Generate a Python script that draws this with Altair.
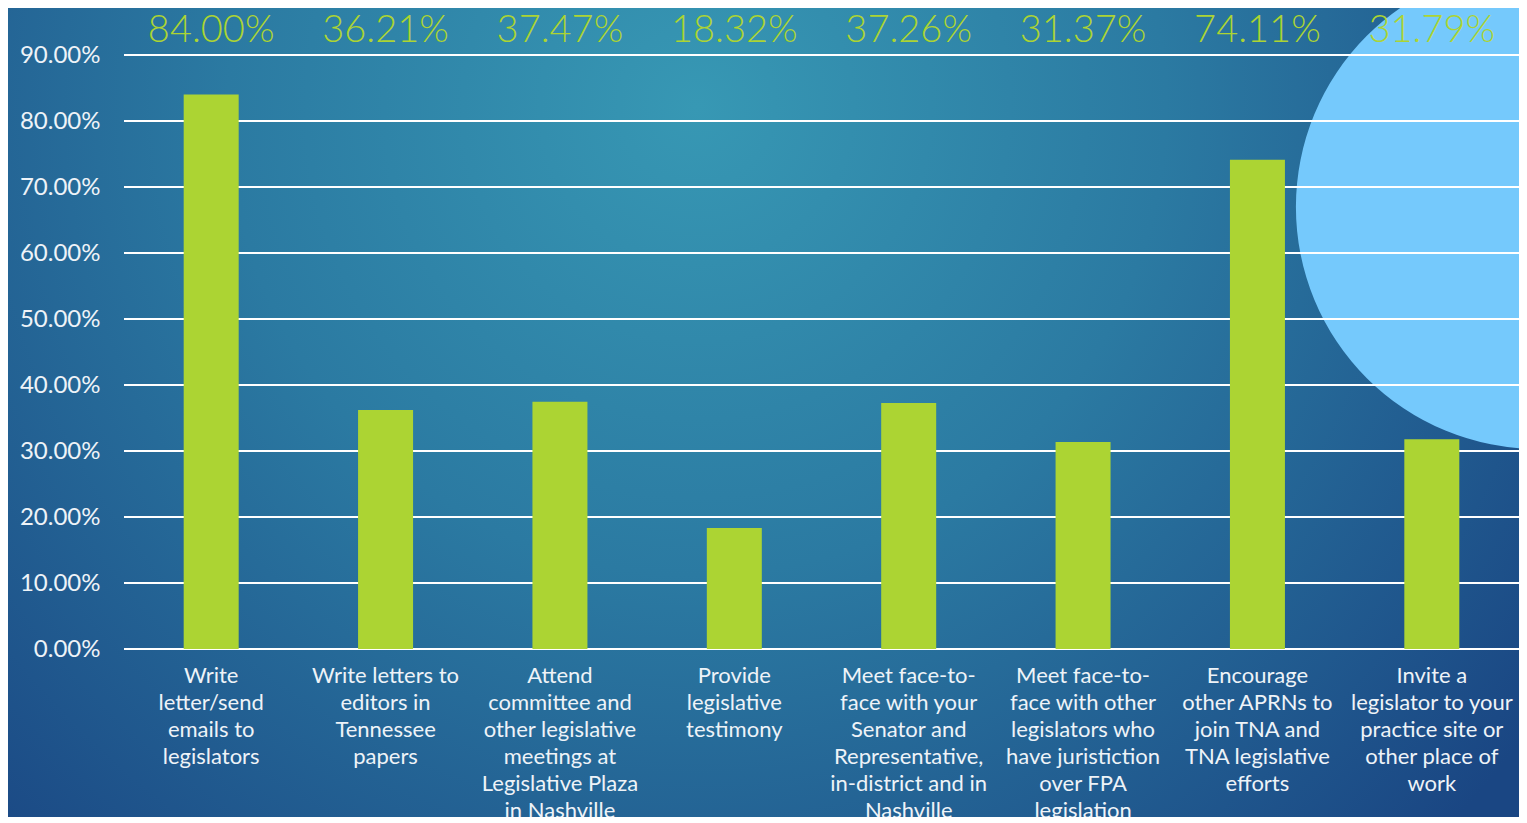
import altair as alt
import pandas as pd

categories = [
    "Write|letter/send|emails to|legislators",
    "Write letters to|editors in|Tennessee|papers",
    "Attend|committee and|other legislative|meetings at|Legislative Plaza|in Nashville",
    "Provide|legislative|testimony",
    "Meet face-to-|face with your|Senator and|Representative,|in-district and in|Nashville",
    "Meet face-to-|face with other|legislators who|have juristiction|over FPA|legislation",
    "Encourage|other APRNs to|join TNA and|TNA legislative|efforts",
    "Invite a|legislator to your|practice site or|other place of|work",
]
values = [0.8400, 0.3621, 0.3747, 0.1832, 0.3726, 0.3137, 0.7411, 0.3179]
ticks = [0.0, 0.1, 0.2, 0.3, 0.4, 0.5, 0.6, 0.7, 0.8, 0.9]

W, H = 1395, 594
PL, PT, PR, PB = 116, 47, 0, 168

df = pd.DataFrame({"cat": categories, "val": values})
grid_df = pd.DataFrame({"t": ticks})
one = pd.DataFrame({"a": [0]})

FONT = "Lato"
LIME = "#acd433"

bg = alt.Chart(one).mark_rect(
    color={
        "gradient": "radial",
        "x1": 0.45, "y1": 0.3, "r1": 0.0,
        "x2": 0.45, "y2": 0.3, "r2": 0.68,
        "stops": [
            {"offset": 0, "color": "#3798b4"},
            {"offset": 0.45, "color": "#2b7aa2"},
            {"offset": 1, "color": "#1a4683"},
        ],
    }
).encode(
    x=alt.value(-PL), x2=alt.value(W + 20),
    y=alt.value(-PT), y2=alt.value(H + PB),
)

circle = alt.Chart(one).mark_arc(
    color="#75c9fc", opacity=1, radius=242, theta=0, theta2=6.2832
).encode(
    x=alt.value(1414), y=alt.value(152)
)

yscale = alt.Scale(domain=[0, 0.9], nice=False)
yaxis = alt.Axis(
    title=None, values=ticks, format=".2%", domain=False, ticks=False,
    grid=False, labelFontSize=24, labelColor="#eef3f8", labelFont=FONT,
    labelPadding=24, zindex=2,
)

grid = alt.Chart(grid_df).mark_rule(color="#ffffff", strokeWidth=2).encode(
    y=alt.Y("t:Q", scale=yscale, axis=yaxis)
)

xenc = alt.X(
    "cat:N", sort=categories,
    scale=alt.Scale(paddingInner=0, paddingOuter=0),
    axis=alt.Axis(
        title=None, labelAngle=0, domain=False, ticks=False, grid=False,
        labelExpr="split(datum.label, '|')", labelLineHeight=27,
        labelFontSize=22, labelColor="#eef3f8", labelFont=FONT,
        labelPadding=16, labelBaseline="top", labelLimit=300, zindex=2,
    ),
)

bars = alt.Chart(df).mark_bar(color=LIME, size=55).encode(
    x=xenc,
    y=alt.Y("val:Q", scale=yscale, axis=yaxis),
)

labels = alt.Chart(df).mark_text(
    color=LIME, fontSize=38, font=FONT, fontWeight=300, baseline="middle", align="center"
).encode(
    x=alt.X("cat:N", sort=categories),
    y=alt.value(-24),
    text=alt.Text("val:Q", format=".2%"),
)

chart = alt.layer(bg, circle, grid, bars, labels).properties(
    width=W, height=H,
    autosize=alt.AutoSizeParams(type="none"),
    padding={"left": PL, "top": PT, "right": PR, "bottom": PB},
).configure_view(stroke=None)

chart.save("out.html", embed_options={"renderer": "svg", "actions": False})
